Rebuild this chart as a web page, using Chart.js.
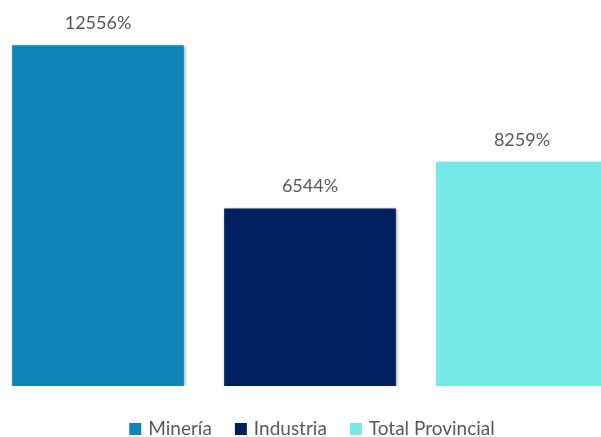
<!DOCTYPE html>
<html>
<head>
<meta charset="utf-8">
<script src="https://cdn.jsdelivr.net/npm/chart.js@4.4.1/dist/chart.umd.min.js"></script>
<style>
  html, body { margin: 0; padding: 0; background: #fff; overflow: hidden; }
  #wrap { position: absolute; left: -8px; top: 0; width: 636px; height: 437px; }
</style>
</head>
<body>
<div id="wrap"><canvas id="chart"></canvas></div>
<script>
// data
const categories = ["Minería", "Industria", "Total Provincial"];
const values = [12556, 6544, 8259];
const colors = ["#0e86ba", "#00205f", "#75e9e6"];

// one dataset per category so every bar gets its own legend entry
const datasets = categories.map((name, i) => ({
    label: name,
    data: categories.map((c, j) => (j === i ? values[i] : null)),
    backgroundColor: colors[i],
    borderWidth: 0,
    categoryPercentage: 1,
    barPercentage: 0.81,
}));

const textColor = "#595959";

// "12556%" style labels above each bar
const valueLabels = {
    id: "valueLabels",
    afterDatasetsDraw(chart) {
        const ctx = chart.ctx;
        ctx.save();
        ctx.font = "18px Lato";
        ctx.fillStyle = textColor;
        ctx.textAlign = "center";
        ctx.textBaseline = "middle";
        chart.data.datasets.forEach((ds, i) => {
            chart.getDatasetMeta(i).data.forEach((bar, j) => {
                const v = ds.data[j];
                if (v == null) return;
                ctx.fillText(v + "%", bar.x, bar.y - 22);
            });
        });
        ctx.restore();
    },
};

// legend drawn by hand so it sits right at the bottom like the original
const bottomLegend = {
    id: "bottomLegend",
    afterDraw(chart) {
        const ctx = chart.ctx;
        const box = 12, gap = 7, spacing = 23, cy = 429;
        ctx.save();
        ctx.font = "19px Lato";
        ctx.textBaseline = "middle";
        ctx.textAlign = "left";
        const items = chart.data.datasets.map(ds => ({
            text: ds.label,
            color: ds.backgroundColor,
            w: ctx.measureText(ds.label).width,
        }));
        let total = items.reduce((s, it) => s + box + gap + it.w, 0) + spacing * (items.length - 1);
        let x = 320 - total / 2;
        items.forEach(it => {
            ctx.fillStyle = it.color;
            ctx.fillRect(x, cy - box / 2, box, box);
            ctx.fillStyle = textColor;
            ctx.fillText(it.text, x + box + gap, cy);
            x += box + gap + it.w + spacing;
        });
        ctx.restore();
    },
};

// soft shadow like the office chart
const barShadow = {
    id: "barShadow",
    beforeDatasetsDraw(chart) {
        const ctx = chart.ctx;
        ctx.save();
        ctx.shadowColor = "rgba(0,0,0,0.35)";
        ctx.shadowBlur = 3;
        ctx.shadowOffsetX = 1;
        ctx.shadowOffsetY = 1;
    },
    afterDatasetsDraw(chart) {
        chart.ctx.restore();
    },
};

new Chart(document.getElementById("chart"), {
    type: "bar",
    data: { labels: categories, datasets: datasets },
    options: {
        responsive: true,
        maintainAspectRatio: false,
        animation: false,
        layout: { padding: { top: 6, bottom: 51 } },
        scales: {
            x: { display: false, stacked: true },
            y: { display: false, beginAtZero: true, max: 14000 },
        },
        plugins: {
            legend: { display: false },
            tooltip: { enabled: false },
        },
    },
    plugins: [barShadow, valueLabels, bottomLegend],
});
</script>
</body>
</html>
